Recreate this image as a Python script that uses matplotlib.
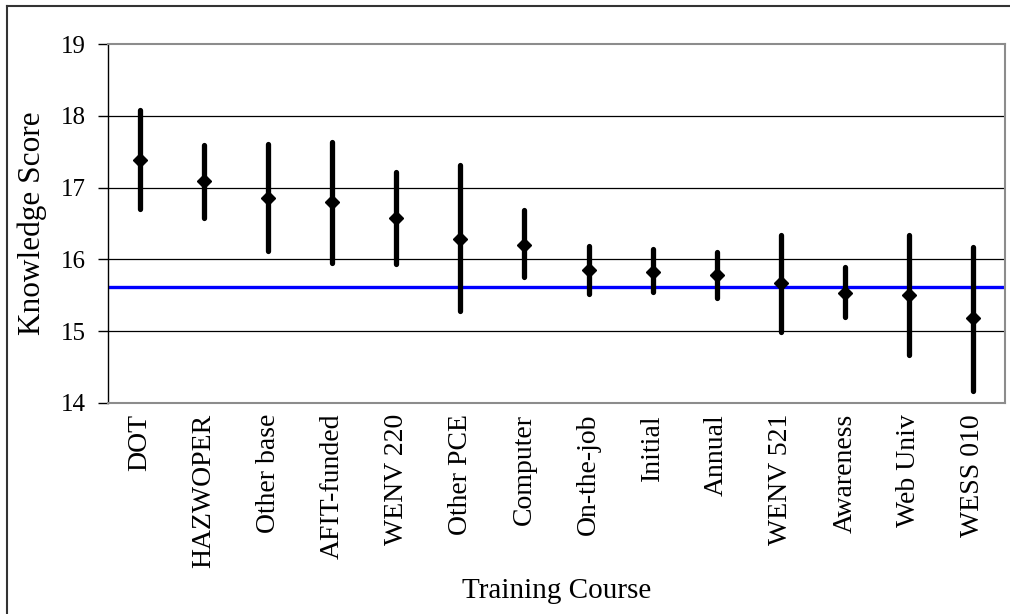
import numpy as np
import matplotlib
matplotlib.use("Agg")
import matplotlib.pyplot as plt
from matplotlib.lines import Line2D

plt.rcParams['font.family'] = ['Liberation Serif', 'DejaVu Serif']

# course means with upper/lower confidence bounds
courses = ['DOT', 'HAZWOPER', 'Other base', 'AFIT-funded', 'WENV 220', 'Other PCE',
           'Computer', 'On-the-job', 'Initial', 'Annual', 'WENV 521', 'Awareness',
           'Web Univ', 'WESS 010']
means = [17.38, 17.09, 16.85, 16.80, 16.57, 16.29, 16.20, 15.85, 15.83, 15.78,
         15.67, 15.53, 15.50, 15.18]
upper = [18.08, 17.59, 17.61, 17.64, 17.22, 17.31, 16.69, 16.19, 16.14, 16.10,
         16.34, 15.89, 16.34, 16.17]
lower = [16.70, 16.57, 16.12, 15.95, 15.94, 15.28, 15.75, 15.51, 15.54, 15.46,
         14.99, 15.19, 14.67, 14.17]
overall_mean = 15.62

fig = plt.figure(figsize=(10.1, 6.14), dpi=100)
ax = fig.add_axes([0.107, 0.344, 0.888, 0.584])

x = np.arange(len(courses))
ax.axhline(overall_mean, color='#0000ff', lw=2.4, zorder=2)
for xi, lo, hi in zip(x, lower, upper):
    ax.plot([xi, xi], [lo, hi], color='black', lw=3.8, solid_capstyle='round', zorder=3)
ax.plot(x, means, 'D', color='black', ms=7, zorder=4)

ax.set_xlim(-0.5, len(courses) - 0.5)
ax.set_ylim(14, 19)
ax.set_yticks([14, 15, 16, 17, 18, 19])
for y in [15, 16, 17, 18]:
    ax.axhline(y, color='black', lw=0.9, zorder=1)

ax.set_xticks(x)
ax.set_xticklabels(courses, rotation=90, fontsize=20)
ax.tick_params(axis='x', length=0, pad=8)
ax.tick_params(axis='y', length=7, width=1, labelsize=18, pad=9, direction='out')

for side in ['top', 'right', 'bottom']:
    ax.spines[side].set_color('#8c8c8c')
    ax.spines[side].set_linewidth(1.5)
ax.spines['left'].set_color('black')
ax.spines['left'].set_linewidth(1)

ax.set_ylabel('Knowledge Score', fontsize=22.5, labelpad=10)
fig.text(0.551, 0.038, 'Training Course', fontsize=21, ha='center', va='center')

# outer chart frame
fig.add_artist(Line2D([0.007, 1.0], [0.991, 0.991], color='#333333', lw=1.5,
                      transform=fig.transFigure))
fig.add_artist(Line2D([0.007, 0.007], [0.0, 0.991], color='#333333', lw=1.5,
                      transform=fig.transFigure))

fig.savefig('out.png', dpi=100)
